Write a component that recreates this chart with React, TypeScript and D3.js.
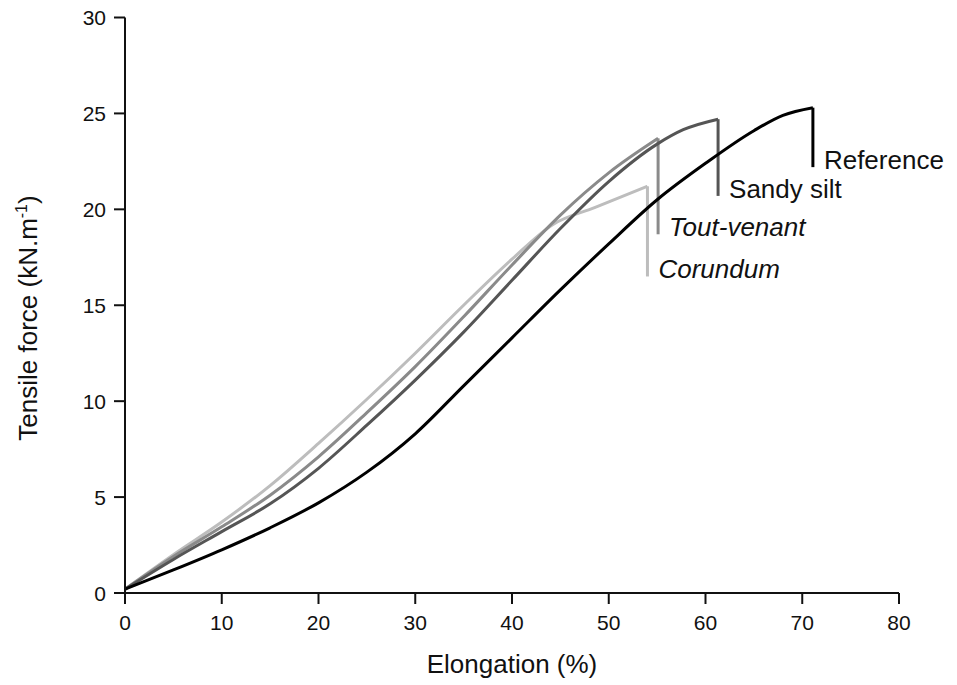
import React, { useEffect, useRef } from 'react';
import * as d3 from 'd3';

// elongation (%) and tensile force (kN/m)
const refX = [0, 5, 10, 15, 20, 25, 30, 35, 40, 45, 50, 55, 60, 65, 68, 71.1];
const refY = [0.2, 1.2, 2.25, 3.4, 4.7, 6.3, 8.3, 10.8, 13.3, 15.8, 18.2, 20.5, 22.4, 24.1, 24.9, 25.3];

const siltX = [0, 5, 10, 15, 20, 25, 30, 35, 40, 45, 50, 55, 57.7, 61.3];
const siltY = [0.2, 1.75, 3.2, 4.65, 6.5, 8.75, 11.1, 13.6, 16.3, 19.0, 21.45, 23.4, 24.15, 24.7];

const toutX = [0, 5, 10, 15, 20, 25, 30, 35, 40, 45, 50, 55.1];
const toutY = [0.2, 1.9, 3.45, 5.1, 7.1, 9.4, 11.8, 14.4, 17.1, 19.7, 21.9, 23.7];

const coruX = [0, 5, 10, 15, 20, 25, 30, 35, 40, 44.2, 48.6, 54];
const coruY = [0.2, 2.0, 3.7, 5.6, 7.8, 10.1, 12.5, 15.0, 17.4, 19.2, 20.1, 21.2];

// force after rupture (vertical drop at the end of each curve)
const seriesNames = ['Reference', 'Sandy silt', 'Tout-venant', 'Corundum'];
const seriesDrop = [22.2, 20.7, 18.7, 16.5];
const seriesColor = ['#000000', '#555555', '#8a8a8a', '#bdbdbd'];
const seriesItalic = [false, false, true, true];

const xTicks = [0, 10, 20, 30, 40, 50, 60, 70, 80];
const yTicks = [0, 5, 10, 15, 20, 25, 30];

function App() {
    const ref = useRef<SVGSVGElement>(null);
    const width = 957;
    const height = 685;

    useEffect(() => {
        const svg = d3.select(ref.current);
        svg.selectAll('*').remove();

        const x = d3.scaleLinear().domain([0, 80]).range([125, 899]);
        const y = d3.scaleLinear().domain([0, 30]).range([593, 17.5]);
        const font = '"Liberation Sans", Arial, sans-serif';

        const xs = [refX, siltX, toutX, coruX];
        const ys = [refY, siltY, toutY, coruY];

        const line = d3.line<[number, number]>()
            .x(d => x(d[0]))
            .y(d => y(d[1]))
            .curve(d3.curveMonotoneX);

        // draw lightest first so the black curve sits on top
        [3, 2, 1, 0].forEach(i => {
            const pts: [number, number][] = xs[i].map((v, k) => [v, ys[i][k]]);
            const last = pts[pts.length - 1];
            svg.append('path')
                .attr('d', line(pts))
                .attr('fill', 'none')
                .attr('stroke', seriesColor[i])
                .attr('stroke-width', 3)
                .attr('stroke-linejoin', 'round');
            svg.append('line')
                .attr('x1', x(last[0]))
                .attr('x2', x(last[0]))
                .attr('y1', y(last[1]))
                .attr('y2', y(seriesDrop[i]))
                .attr('stroke', seriesColor[i])
                .attr('stroke-width', 3);
            svg.append('text')
                .attr('x', x(last[0]) + 11)
                .attr('y', y(seriesDrop[i]) + 2)
                .style('font-family', font)
                .style('font-size', '26px')
                .style('font-style', seriesItalic[i] ? 'italic' : 'normal')
                .style('fill', '#111')
                .text(seriesNames[i]);
        });

        // x axis
        const gx = svg.append('g').attr('transform', `translate(0,${y(0)})`);
        gx.append('line')
            .attr('x1', x(0)).attr('x2', x(80))
            .attr('stroke', '#111').attr('stroke-width', 2);
        xTicks.forEach(t => {
            gx.append('line')
                .attr('x1', x(t)).attr('x2', x(t))
                .attr('y1', 0).attr('y2', 11)
                .attr('stroke', '#111').attr('stroke-width', 2);
            gx.append('text')
                .attr('x', x(t))
                .attr('y', 37)
                .attr('text-anchor', 'middle')
                .style('font-family', font)
                .style('font-size', '21px')
                .style('fill', '#111')
                .text(t);
        });

        // y axis
        const gy = svg.append('g').attr('transform', `translate(${x(0)},0)`);
        gy.append('line')
            .attr('y1', y(0)).attr('y2', y(30))
            .attr('stroke', '#111').attr('stroke-width', 2);
        yTicks.forEach(t => {
            gy.append('line')
                .attr('x1', -11).attr('x2', 0)
                .attr('y1', y(t)).attr('y2', y(t))
                .attr('stroke', '#111').attr('stroke-width', 2);
            gy.append('text')
                .attr('x', -19)
                .attr('y', y(t))
                .attr('text-anchor', 'end')
                .attr('dominant-baseline', 'central')
                .style('font-family', font)
                .style('font-size', '21px')
                .style('fill', '#111')
                .text(t);
        });

        // axis titles
        svg.append('text')
            .attr('x', 512)
            .attr('y', 673)
            .attr('text-anchor', 'middle')
            .style('font-family', font)
            .style('font-size', '26px')
            .style('fill', '#111')
            .text('Elongation (%)');

        const yt = svg.append('text')
            .attr('transform', 'translate(37,318) rotate(-90)')
            .attr('text-anchor', 'middle')
            .style('font-family', font)
            .style('font-size', '26px')
            .style('fill', '#111');
        yt.append('tspan').text('Tensile force (kN.m');
        yt.append('tspan')
            .attr('dy', -10)
            .style('font-size', '16px')
            .text('-1');
        yt.append('tspan')
            .attr('dy', 10)
            .text(')');
    }, []);

    return (
        <svg
            ref={ref}
            width={width}
            height={height}
            style={{ position: 'absolute', left: 0, top: 0, background: '#fff' }}
        ></svg>
    );
}

export default App;
